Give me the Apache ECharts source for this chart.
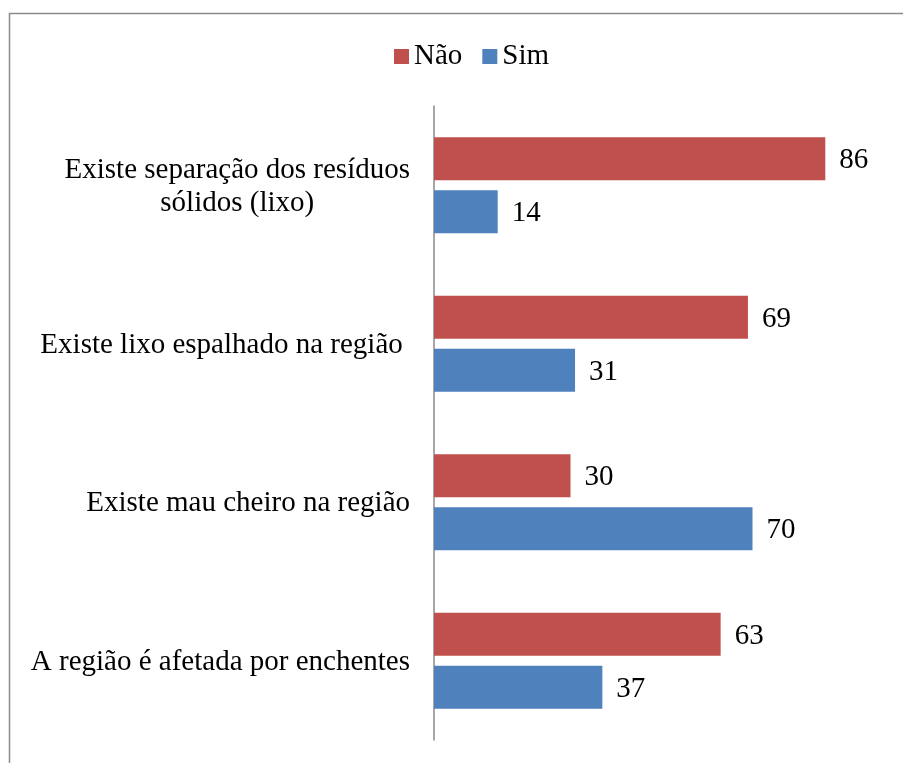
<!DOCTYPE html>
<html>
<head>
<meta charset="utf-8">
<script src="https://cdn.jsdelivr.net/npm/echarts@6/dist/echarts.min.js"></script>
<style>
  html, body { margin: 0; padding: 0; background: #fff; }
  #chart { width: 903px; height: 763px; }
</style>
</head>
<body>
<div id="chart"></div>
<script>
// categories (top to bottom)
const categories = [
  'Existe separação dos resíduos\nsólidos (lixo)',
  'Existe lixo espalhado na região ',
  'Existe mau cheiro na região',
  'A região é afetada por enchentes'
];
const seriesNames = ['Não', 'Sim'];
const naoValues = [86, 69, 30, 63];
const simValues = [14, 31, 70, 37];

const fontFamily = '"Liberation Serif", "Times New Roman", serif';
const colors = ['#C0504D', '#4F81BD'];

const chart = echarts.init(document.getElementById('chart'));

// 多行标签：整体右对齐，行内居中
const labelFormatter = (value) => value.split('\n').map(line => '{c|' + line + '}').join('\n');

const makeSeries = (name, data, index) => ({
  name: name,
  type: 'bar',
  data: data,
  barWidth: 43,
  barGap: '23%',
  itemStyle: { color: colors[index] },
  label: {
    show: true,
    position: 'right',
    distance: 14,
    color: '#000',
    fontFamily: fontFamily,
    fontSize: 29,
    offset: [0, 2]
  }
});

const option = {
  backgroundColor: '#fff',
  animation: false,
  graphic: [{
    type: 'rect',
    shape: { x: 9.5, y: 13.5, width: 1000, height: 1000 },
    style: { fill: 'none', stroke: '#8a8a8a', lineWidth: 1.5 },
    silent: true
  }],
  legend: {
    data: seriesNames,
    top: 37,
    left: 389,
    icon: 'rect',
    itemWidth: 15,
    itemHeight: 15,
    itemGap: 20,
    textStyle: { color: '#000', fontFamily: fontFamily, fontSize: 29 }
  },
  grid: {
    left: 434,
    right: 14,
    top: 106,
    bottom: 23,
    containLabel: false
  },
  xAxis: {
    type: 'value',
    min: 0,
    max: 100,
    show: false
  },
  yAxis: {
    type: 'category',
    inverse: true,
    data: categories,
    axisLine: { show: true, lineStyle: { color: '#8a8a8a', width: 1.5 } },
    axisTick: { show: false },
    splitLine: { show: false },
    axisLabel: {
      margin: 24,
      color: '#000',
      fontFamily: fontFamily,
      fontSize: 29,
      lineHeight: 33,
      formatter: labelFormatter,
      rich: {
        c: { align: 'center', color: '#000', fontFamily: fontFamily, fontSize: 29, lineHeight: 33, padding: [3, 0, 0, 0] }
      }
    }
  },
  series: [
    makeSeries(seriesNames[0], naoValues, 0),
    makeSeries(seriesNames[1], simValues, 1)
  ]
};

chart.setOption(option);
</script>
</body>
</html>
